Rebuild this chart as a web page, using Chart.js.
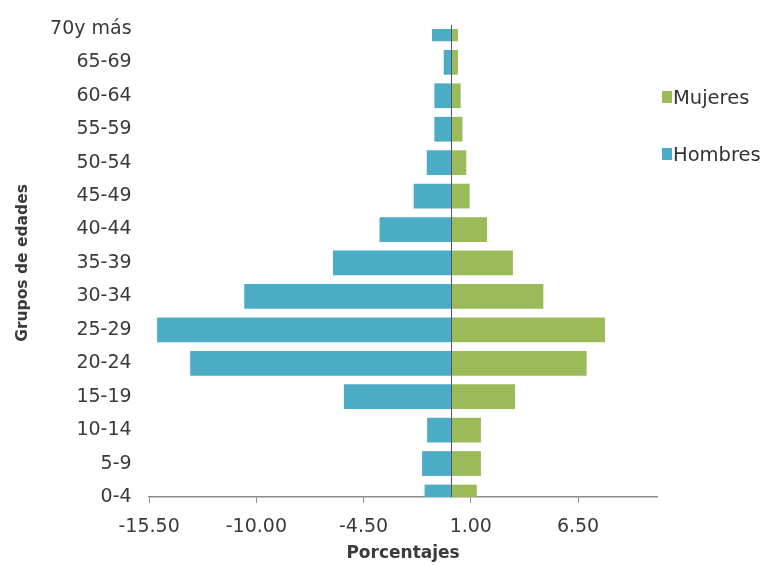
<!DOCTYPE html>
<html lang="es">
<head>
<meta charset="utf-8">
<title>Grupos de edades</title>
<script src="https://cdn.jsdelivr.net/npm/chart.js@4.4.1/dist/chart.umd.min.js"></script>
<style>
  html, body { margin: 0; padding: 0; background: #fff; }
  #wrap { position: relative; width: 769px; height: 566px; }
  #legend { position: absolute; left: 662px; top: 85px; font-family: 'DejaVu Sans', sans-serif; font-size: 19.5px; color: #333; }
  .item { position: absolute; left: 0; display: flex; align-items: center; height: 24px; white-space: nowrap; }
  .sw { width: 10px; height: 12px; margin-right: 1px; }
</style>
</head>
<body>
<div id="wrap">
  <canvas id="chart" width="769" height="566"></canvas>
  <div id="legend"></div>
</div>
<script>
// de abajo hacia arriba
const grupos = ['0-4', '5-9', '10-14', '15-19', '20-24', '25-29', '30-34', '35-39',
                '40-44', '45-49', '50-54', '55-59', '60-64', '65-69', '70y más'];
const hombres = [-1.37, -1.50, -1.24, -5.51, -13.39, -15.09, -10.62, -6.07,
                 -3.68, -1.93, -1.26, -0.87, -0.87, -0.39, -0.99];
const mujeres = [1.31, 1.52, 1.52, 3.27, 6.94, 7.88, 4.72, 3.16,
                 1.83, 0.94, 0.77, 0.57, 0.48, 0.34, 0.34];
const xTickValues = [-15.5, -10, -4.5, 1, 6.5];
const xTickLabels = ['-15.50', '-10.00', '-4.50', '1.00', '6.50'];

const VERDE = '#9bbb59';
const AZUL = '#4bacc6';
const TEXTO = '#3a3a3a';

const lineaCero = {
    id: 'lineaCero',
    afterDatasetsDraw(chart) {
        const { ctx, chartArea, scales } = chart;
        const x = Math.round(scales.x.getPixelForValue(0)) + 0.5;
        ctx.save();
        ctx.strokeStyle = '#50507a';
        ctx.lineWidth = 1;
        ctx.beginPath();
        ctx.moveTo(x, chartArea.top - 4);
        ctx.lineTo(x, chartArea.bottom);
        ctx.stroke();
        ctx.restore();
    }
};

const chart = new Chart(document.getElementById('chart'), {
    type: 'bar',
    data: {
        labels: grupos,
        datasets: [
            { label: 'Mujeres', data: mujeres, backgroundColor: VERDE, clip: 0 },
            { label: 'Hombres', data: hombres, backgroundColor: AZUL, clip: 0 }
        ]
    },
    options: {
        indexAxis: 'y',
        responsive: false,
        animation: false,
        datasets: { bar: { categoryPercentage: 1, barPercentage: 0.74 } },
        layout: { padding: { left: 8, right: 112, top: 26, bottom: 1.5 } },
        plugins: { legend: { display: false }, tooltip: { enabled: false } },
        scales: {
            x: {
                stacked: true,
                min: -15.5,
                max: 10.55,
                afterBuildTicks: axis => { axis.ticks = xTickValues.map(v => ({ value: v })); },
                ticks: {
                    color: TEXTO,
                    padding: 14.5,
                    maxRotation: 0,
                    font: { family: 'DejaVu Sans', size: 19, lineHeight: 1 },
                    callback: (v, i) => xTickLabels[i]
                },
                grid: { display: true, drawOnChartArea: false, drawTicks: true, tickLength: 6, color: '#8c8c8c' },
                border: { display: true, color: '#8c8c8c', width: 1.5 },
                title: {
                    display: true,
                    text: 'Porcentajes',
                    color: TEXTO,
                    font: { family: 'DejaVu Sans', size: 17, weight: 'bold', lineHeight: 1 },
                    padding: { top: -5.5, bottom: 2 }
                }
            },
            y: {
                stacked: true,
                reverse: true,
                offset: false,
                ticks: { color: TEXTO, padding: 17.5, font: { family: 'DejaVu Sans', size: 19 } },
                grid: { display: false, drawTicks: false },
                border: { display: false },
                title: {
                    display: true,
                    text: 'Grupos de edades',
                    color: TEXTO,
                    font: { family: 'DejaVu Sans', size: 15.5, weight: 'bold' },
                    padding: { top: 6, bottom: 0 }
                }
            }
        }
    },
    plugins: [lineaCero]
});

// leyenda
const legend = document.getElementById('legend');
legend.innerHTML = chart.data.datasets.map((d, i) => `
    <div class="item" style="top:${i * 57}px">
        <span class="sw" style="background:${d.backgroundColor}"></span>${d.label}
    </div>
`).join('');
</script>
</body>
</html>
